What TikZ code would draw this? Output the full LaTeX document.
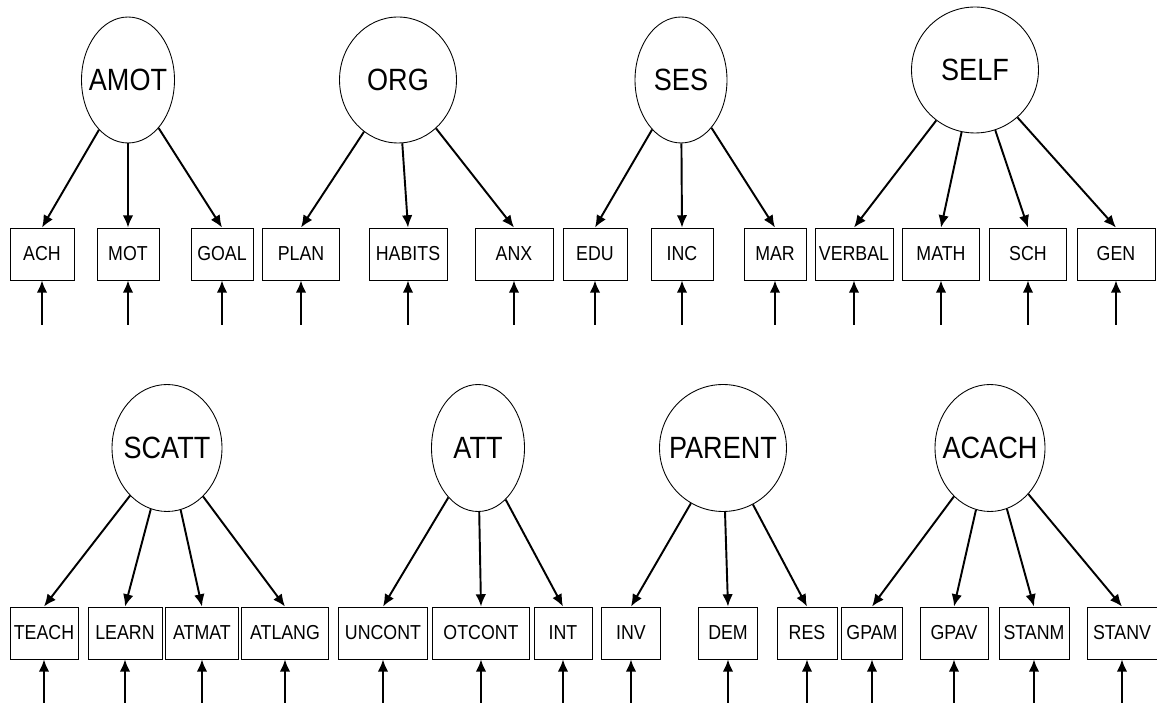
\documentclass[tikz,border=0pt]{standalone}
\usepackage{fontspec}
\setmainfont{Liberation Sans}[FakeStretch=0.88]
\usepackage{tikz}
\usetikzlibrary{shapes}
\usetikzlibrary{arrows.meta}
\tikzstyle{Latent}=[ellipse,draw,line width=.5pt,inner sep=0pt]
\tikzstyle{LatentText}=[font=\fontsize{17.5}{19}\selectfont,inner sep=0pt]
\tikzstyle{Obs}=[rectangle,draw,line width=.5pt,inner sep=0pt,
minimum height=1.04cm,font=\fontsize{11.5}{13}\selectfont]
\tikzstyle{Edge}=[draw,line width=1.1pt,-{Latex[length=7pt,width=6pt]}]

\begin{document}
\begin{tikzpicture}[x=0.02cm,y=-0.02cm]
        \useasboundingbox(0,0)rectangle(1157,705);
        % latent factors
        \node[Latent,minimum width=1.86cm,minimum height=2.52cm,label={[LatentText]center:AMOT}](AMOT)at(128,80){};
        \node[Latent,minimum width=2.34cm,minimum height=2.52cm,label={[LatentText]center:ORG}](ORG)at(398,80){};
        \node[Latent,minimum width=1.84cm,minimum height=2.52cm,label={[LatentText]center:SES}](SES)at(681,80){};
        \node[Latent,minimum width=2.54cm,minimum height=2.52cm,label={[LatentText]center:SELF}](SELF)at(975,70){};
        \node[Latent,minimum width=2.20cm,minimum height=2.54cm,label={[LatentText]center:SCATT}](SCATT)at(167,448){};
        \node[Latent,minimum width=1.86cm,minimum height=2.54cm,label={[LatentText]center:ATT}](ATT)at(478,448){};
        \node[Latent,minimum width=2.54cm,minimum height=2.54cm,label={[LatentText]center:PARENT}](PARENT)at(723,448){};
        \node[Latent,minimum width=2.20cm,minimum height=2.54cm,label={[LatentText]center:ACACH}](ACACH)at(990,448){};
        % indicators, top row
        \node[Obs,minimum width=1.28cm](ACH)at(42,254){ACH};
        \node[Obs,minimum width=1.24cm](MOT)at(128,254){MOT};
        \node[Obs,minimum width=1.24cm](GOAL)at(222,254){GOAL};
        \node[Obs,minimum width=1.54cm](PLAN)at(301,254){PLAN};
        \node[Obs,minimum width=1.56cm](HABITS)at(408,254){HABITS};
        \node[Obs,minimum width=1.56cm](ANX)at(514,254){ANX};
        \node[Obs,minimum width=1.28cm](EDU)at(595,254){EDU};
        \node[Obs,minimum width=1.24cm](INC)at(682,254){INC};
        \node[Obs,minimum width=1.24cm](MAR)at(775,254){MAR};
        \node[Obs,minimum width=1.56cm](VERBAL)at(854,254){VERBAL};
        \node[Obs,minimum width=1.54cm](MATH)at(941,254){MATH};
        \node[Obs,minimum width=1.54cm](SCH)at(1028,254){SCH};
        \node[Obs,minimum width=1.56cm](GEN)at(1116,254){GEN};
        % indicators, bottom row
        \node[Obs,minimum width=1.36cm](TEACH)at(44,633){TEACH};
        \node[Obs,minimum width=1.48cm](LEARN)at(125,633){LEARN};
        \node[Obs,minimum width=1.46cm](ATMAT)at(202,633){ATMAT};
        \node[Obs,minimum width=1.74cm](ATLANG)at(285,633){ATLANG};
        \node[Obs,minimum width=1.78cm](UNCONT)at(383,633){UNCONT};
        \node[Obs,minimum width=1.94cm](OTCONT)at(481,633){OTCONT};
        \node[Obs,minimum width=1.16cm](INT)at(563,633){INT};
        \node[Obs,minimum width=1.18cm](INV)at(631,633){INV};
        \node[Obs,minimum width=1.18cm](DEM)at(728,633){DEM};
        \node[Obs,minimum width=1.20cm](RES)at(807,633){RES};
        \node[Obs,minimum width=1.22cm](GPAM)at(872,633){GPAM};
        \node[Obs,minimum width=1.36cm](GPAV)at(954,633){GPAV};
        \node[Obs,minimum width=1.40cm](STANM)at(1034,633){STANM};
        \node[Obs,minimum width=1.40cm](STANV)at(1122,633){STANV};
        % loadings
        \draw[Edge](AMOT)--(ACH.north);
        \draw[Edge](AMOT)--(MOT.north);
        \draw[Edge](AMOT)--(GOAL.north);
        \draw[Edge](ORG)--(PLAN.north);
        \draw[Edge](ORG)--(HABITS.north);
        \draw[Edge](ORG)--(ANX.north);
        \draw[Edge](SES)--(EDU.north);
        \draw[Edge](SES)--(INC.north);
        \draw[Edge](SES)--(MAR.north);
        \draw[Edge](SELF)--(VERBAL.north);
        \draw[Edge](SELF)--(MATH.north);
        \draw[Edge](SELF)--(SCH.north);
        \draw[Edge](SELF)--(GEN.north);
        \draw[Edge](SCATT)--(TEACH.north);
        \draw[Edge](SCATT)--(LEARN.north);
        \draw[Edge](SCATT)--(ATMAT.north);
        \draw[Edge](SCATT)--(ATLANG.north);
        \draw[Edge](ATT)--(UNCONT.north);
        \draw[Edge](ATT)--(OTCONT.north);
        \draw[Edge](ATT)--(INT.north);
        \draw[Edge](PARENT)--(INV.north);
        \draw[Edge](PARENT)--(DEM.north);
        \draw[Edge](PARENT)--(RES.north);
        \draw[Edge](ACACH)--(GPAM.north);
        \draw[Edge](ACACH)--(GPAV.north);
        \draw[Edge](ACACH)--(STANM.north);
        \draw[Edge](ACACH)--(STANV.north);
        % error terms
        \coordinate(eACH)at(42,325);
        \coordinate(eMOT)at(128,325);
        \coordinate(eGOAL)at(222,325);
        \coordinate(ePLAN)at(301,325);
        \coordinate(eHABITS)at(408,325);
        \coordinate(eANX)at(514,325);
        \coordinate(eEDU)at(595,325);
        \coordinate(eINC)at(682,325);
        \coordinate(eMAR)at(775,325);
        \coordinate(eVERBAL)at(854,325);
        \coordinate(eMATH)at(941,325);
        \coordinate(eSCH)at(1028,325);
        \coordinate(eGEN)at(1116,325);
        \coordinate(eTEACH)at(44,703);
        \coordinate(eLEARN)at(125,703);
        \coordinate(eATMAT)at(202,703);
        \coordinate(eATLANG)at(285,703);
        \coordinate(eUNCONT)at(383,703);
        \coordinate(eOTCONT)at(481,703);
        \coordinate(eINT)at(563,703);
        \coordinate(eINV)at(631,703);
        \coordinate(eDEM)at(728,703);
        \coordinate(eRES)at(807,703);
        \coordinate(eGPAM)at(872,703);
        \coordinate(eGPAV)at(954,703);
        \coordinate(eSTANM)at(1034,703);
        \coordinate(eSTANV)at(1122,703);
        \draw[Edge](eACH)--(ACH);
        \draw[Edge](eMOT)--(MOT);
        \draw[Edge](eGOAL)--(GOAL);
        \draw[Edge](ePLAN)--(PLAN);
        \draw[Edge](eHABITS)--(HABITS);
        \draw[Edge](eANX)--(ANX);
        \draw[Edge](eEDU)--(EDU);
        \draw[Edge](eINC)--(INC);
        \draw[Edge](eMAR)--(MAR);
        \draw[Edge](eVERBAL)--(VERBAL);
        \draw[Edge](eMATH)--(MATH);
        \draw[Edge](eSCH)--(SCH);
        \draw[Edge](eGEN)--(GEN);
        \draw[Edge](eTEACH)--(TEACH);
        \draw[Edge](eLEARN)--(LEARN);
        \draw[Edge](eATMAT)--(ATMAT);
        \draw[Edge](eATLANG)--(ATLANG);
        \draw[Edge](eUNCONT)--(UNCONT);
        \draw[Edge](eOTCONT)--(OTCONT);
        \draw[Edge](eINT)--(INT);
        \draw[Edge](eINV)--(INV);
        \draw[Edge](eDEM)--(DEM);
        \draw[Edge](eRES)--(RES);
        \draw[Edge](eGPAM)--(GPAM);
        \draw[Edge](eGPAV)--(GPAV);
        \draw[Edge](eSTANM)--(STANM);
        \draw[Edge](eSTANV)--(STANV);
    \end{tikzpicture}
\end{document}
